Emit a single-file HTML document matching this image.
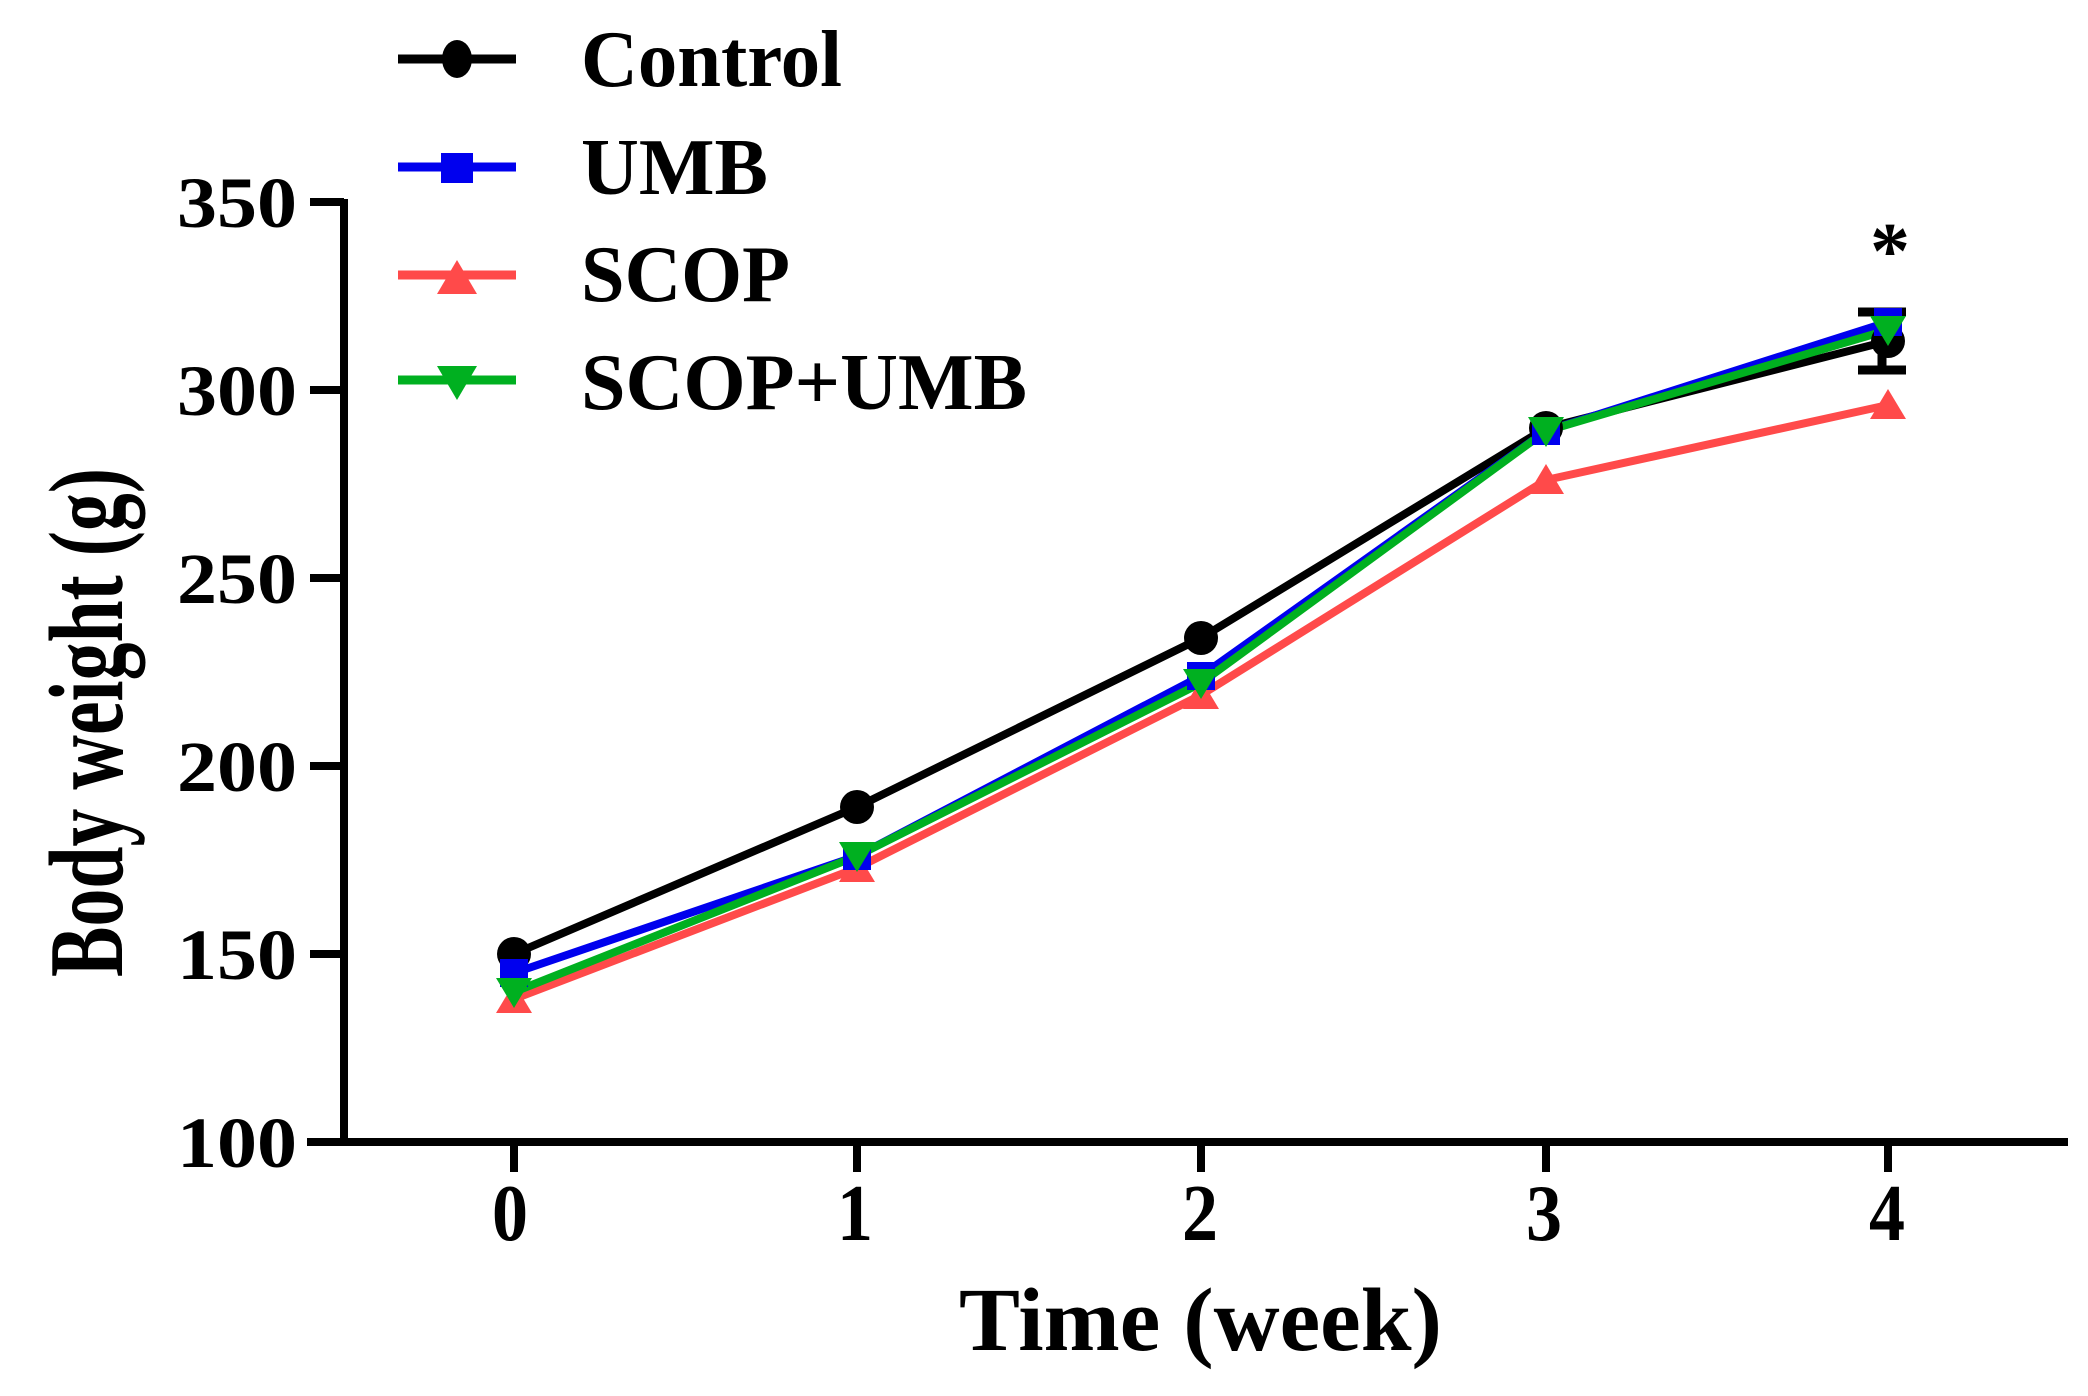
<!DOCTYPE html>
<html><head><meta charset="utf-8"><style>html,body{margin:0;padding:0;background:#fff}svg{display:block}</style></head>
<body>
<svg width="2088" height="1396" viewBox="0 0 2088 1396" xmlns="http://www.w3.org/2000/svg" font-family="Liberation Serif, serif" font-weight="bold">
<rect width="2088" height="1396" fill="#fff"/>
<!-- axes -->
<g stroke="#000" stroke-width="8" fill="none">
<line x1="344" y1="199" x2="344" y2="1146"/>
<line x1="307" y1="1142" x2="2068" y2="1142"/>
<line x1="310" y1="202" x2="344" y2="202"/>
<line x1="310" y1="390" x2="344" y2="390"/>
<line x1="310" y1="578" x2="344" y2="578"/>
<line x1="310" y1="766" x2="344" y2="766"/>
<line x1="310" y1="954" x2="344" y2="954"/>
<line x1="514" y1="1142" x2="514" y2="1172"/>
<line x1="857" y1="1142" x2="857" y2="1172"/>
<line x1="1201" y1="1142" x2="1201" y2="1172"/>
<line x1="1546" y1="1142" x2="1546" y2="1172"/>
<line x1="1888" y1="1142" x2="1888" y2="1172"/>
</g>
<g font-size="72" text-anchor="end">
<text x="297" y="227" textLength="120" lengthAdjust="spacingAndGlyphs">350</text>
<text x="297" y="415" textLength="120" lengthAdjust="spacingAndGlyphs">300</text>
<text x="297" y="603" textLength="120" lengthAdjust="spacingAndGlyphs">250</text>
<text x="297" y="791" textLength="120" lengthAdjust="spacingAndGlyphs">200</text>
<text x="297" y="979" textLength="120" lengthAdjust="spacingAndGlyphs">150</text>
<text x="297" y="1167" textLength="120" lengthAdjust="spacingAndGlyphs">100</text>
</g>
<g font-size="80" text-anchor="middle">
<text x="510" y="1240" textLength="36" lengthAdjust="spacingAndGlyphs">0</text>
<text x="855" y="1240" textLength="36" lengthAdjust="spacingAndGlyphs">1</text>
<text x="1200" y="1240" textLength="36" lengthAdjust="spacingAndGlyphs">2</text>
<text x="1544" y="1240" textLength="36" lengthAdjust="spacingAndGlyphs">3</text>
<text x="1887" y="1240" textLength="36" lengthAdjust="spacingAndGlyphs">4</text>
</g>
<text x="959" y="1350" font-size="90" textLength="483" lengthAdjust="spacingAndGlyphs">Time (week)</text>
<text transform="translate(122,977) rotate(-90)" font-size="106" textLength="509" lengthAdjust="spacingAndGlyphs">Body weight (g)</text>
<!-- error bar -->
<g stroke="#000" stroke-width="9">
<line x1="1882" y1="312" x2="1882" y2="370"/>
<line x1="1858" y1="312" x2="1906" y2="312"/>
<line x1="1858" y1="370" x2="1906" y2="370"/>
</g>
<text x="1890" y="278" font-size="80" text-anchor="middle">*</text>
<!-- series -->
<g fill="none" stroke-width="8" stroke-linejoin="round">
<polyline stroke="#000" points="514,954 857,807 1201,638 1546,428 1888,341"/>
<polyline stroke="#ff4a4a" points="514,999 857,868 1201,695 1546,480 1888,405"/>
<polyline stroke="#0000ee" points="514,973 857,856 1201,676 1546,431 1888,322"/>
<polyline stroke="#00b020" points="514,992 857,856 1201,683 1546,431 1888,330"/>
</g>
<g fill="#000">
<circle cx="514" cy="954" r="17"/><circle cx="857" cy="807" r="17"/><circle cx="1201" cy="638" r="17"/><circle cx="1546" cy="428" r="17"/><circle cx="1888" cy="341" r="17"/>
</g>
<g fill="#ff4a4a">
<polygon points="514,983 532,1013 496,1013"/><polygon points="857,852 875,882 839,882"/><polygon points="1201,679 1219,709 1183,709"/><polygon points="1546,464 1564,494 1528,494"/><polygon points="1888,389 1906,419 1870,419"/>
</g>
<g fill="#0000ee">
<rect x="500" y="959" width="28" height="28"/><rect x="843" y="842" width="28" height="28"/><rect x="1187" y="662" width="28" height="28"/><rect x="1532" y="417" width="28" height="28"/><rect x="1874" y="308" width="28" height="28"/>
</g>
<g fill="#00b020">
<polygon points="496,978 532,978 514,1008"/><polygon points="839,842 875,842 857,872"/><polygon points="1183,669 1219,669 1201,699"/><polygon points="1528,417 1564,417 1546,447"/><polygon points="1870,316 1906,316 1888,346"/>
</g>
<!-- legend -->
<g stroke-width="9">
<line x1="398" y1="59" x2="516" y2="59" stroke="#000"/>
<line x1="398" y1="167" x2="516" y2="167" stroke="#0000ee"/>
<line x1="398" y1="275" x2="516" y2="275" stroke="#ff4a4a"/>
<line x1="398" y1="380" x2="516" y2="380" stroke="#00b020"/>
</g>
<ellipse cx="457" cy="59" rx="15" ry="19" fill="#000"/>
<rect x="441" y="153" width="32" height="30" fill="#0000ee"/>
<polygon points="457,260 477,294 437,294" fill="#ff4a4a"/>
<polygon points="437,366 477,366 457,400" fill="#00b020"/>
<g font-size="80">
<text x="581" y="86" textLength="261" lengthAdjust="spacingAndGlyphs">Control</text>
<text x="581" y="194" textLength="187" lengthAdjust="spacingAndGlyphs">UMB</text>
<text x="581" y="301" textLength="209" lengthAdjust="spacingAndGlyphs">SCOP</text>
<text x="581" y="409" textLength="446" lengthAdjust="spacingAndGlyphs">SCOP+UMB</text>
</g>
</svg>
</body></html>
